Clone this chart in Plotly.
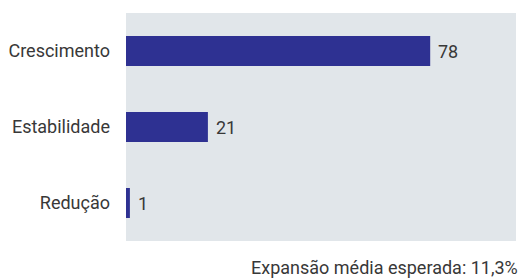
import plotly.graph_objects as go

categories = ["Crescimento", "Estabilidade", "Redução"]
values = [78, 21, 1]
value_labels = ["78", "21", "1"]
footer = "Expansão média esperada: 11,3%"

BAR = "#2E3192"
BG = "#E1E6EA"
TXT = "#383838"
FONT = "Liberation Sans Narrow, Roboto, sans-serif"
FS = 18

fig = go.Figure(go.Bar(
    y=categories, x=values, orientation="h",
    marker=dict(color=BAR, line=dict(width=0)),
    width=0.395, hoverinfo="skip",
))

for c, v, t in zip(categories, values, value_labels):
    fig.add_annotation(x=v, y=c, text=t, xref="x", yref="y",
                       xanchor="left", yanchor="middle", xshift=6, showarrow=False,
                       font=dict(family=FONT, size=FS, color=TXT))

fig.add_annotation(xref="paper", yref="paper", x=1, y=0, xanchor="right", yanchor="top",
                   xshift=4, yshift=-14, text=footer, showarrow=False,
                   font=dict(family=FONT, size=FS, color=TXT))

fig.update_layout(
    width=523, height=280,
    margin=dict(l=126, r=7, t=13, b=39, autoexpand=False),
    plot_bgcolor=BG, paper_bgcolor="white",
    showlegend=False,
    font=dict(family=FONT, size=FS, color=TXT),
    xaxis=dict(range=[0, 100], visible=False, showgrid=False, zeroline=False, fixedrange=True),
    yaxis=dict(categoryorder="array", categoryarray=categories, autorange="reversed",
               showgrid=False, zeroline=False, ticks="", ticklabelstandoff=15, automargin=False,
               tickfont=dict(family=FONT, size=FS, color=TXT)),
)

fig.write_html("out.html", config={"displayModeBar": False},
               post_script="document.body.style.margin='0';document.body.style.overflow='hidden';")
